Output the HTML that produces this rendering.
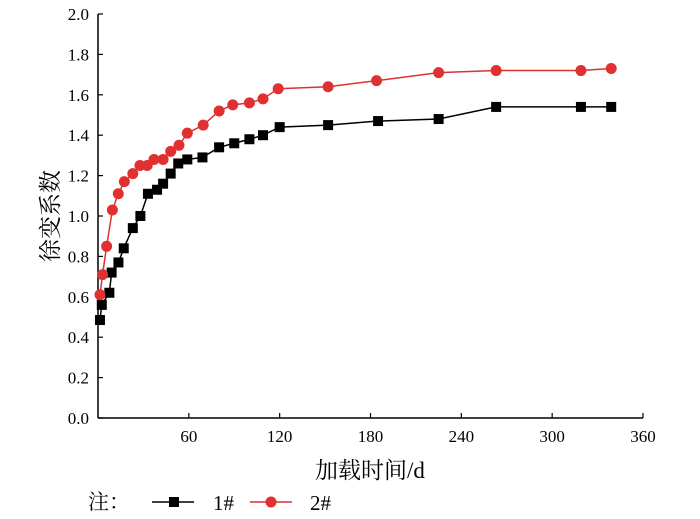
<!DOCTYPE html>
<html><head><meta charset="utf-8"><style>
html,body{margin:0;padding:0;background:#fff;}
svg{display:block;font-family:"Liberation Serif","Noto Serif CJK SC",serif;}
</style></head><body>
<svg id="chart" width="700" height="519" viewBox="0 0 700 519" xmlns="http://www.w3.org/2000/svg">
<g id="axes"></g>
<g id="series"></g>
<text x="370" y="478" font-size="23" text-anchor="middle" font-family="Liberation Serif, Noto Serif CJK SC, serif">加载时间/d</text>
<text transform="translate(58,216) rotate(-90)" font-size="23" text-anchor="middle" font-family="Liberation Serif, Noto Serif CJK SC, serif">徐变系数</text>
<g>
<text x="88" y="509" font-size="21">注：</text>
<g>
<line x1="152" y1="502" x2="194" y2="502" stroke="#000" stroke-width="1.5"/>
<rect x="169" y="497" width="10" height="10" fill="#000"/>
<text x="213" y="510" font-size="21">1#</text></g>
<g>
<line x1="250" y1="502" x2="292" y2="502" stroke="#e03030" stroke-width="1.5"/>
<circle cx="271" cy="502" r="5.5" fill="#e03030"/>
<text x="310" y="510" font-size="21">2#</text></g>
</g>
</svg>
<script>
const xTicks=[60,120,180,240,300,360];
const yTicks=[0,0.2,0.4,0.6,0.8,1.0,1.2,1.4,1.6,1.8,2.0];
const days1=[1.3,2.5,7.5,9,13.5,17,23,28,33,39,43,48,53,59,69,80,90,100,109,120,152,185,225,263,319,339];
const creep1=[0.485,0.56,0.62,0.72,0.77,0.84,0.94,1.00,1.11,1.13,1.16,1.21,1.26,1.28,1.29,1.34,1.36,1.38,1.40,1.44,1.45,1.47,1.48,1.54,1.54,1.54];
const days2=[1.3,3,5.7,9.5,13.4,17.4,23,27.7,32.5,37,43,48,53.5,59,69.5,80,89,100,109,119,152,184,225,263,319,339];
const creep2=[0.61,0.71,0.85,1.03,1.11,1.17,1.21,1.25,1.25,1.28,1.28,1.32,1.35,1.41,1.45,1.52,1.55,1.56,1.58,1.63,1.64,1.67,1.71,1.72,1.72,1.73];
const NS="http://www.w3.org/2000/svg";
const X0=98,X1=643,Y0=418,Y1=14;
function xs(v){return X0+(X1-X0)*v/360;}
function ys(v){return Y0-(Y0-Y1)*v/2;}
function mk(tag,attrs,parent){const e=document.createElementNS(NS,tag);for(const k in attrs)e.setAttribute(k,attrs[k]);parent.appendChild(e);return e;}
const ax=document.getElementById('axes');
const xl=mk('line',{x1:X0,y1:Y0,x2:X1,y2:Y0,stroke:'#000','stroke-width':1.5},ax);


const yl=mk('line',{x1:X0,y1:Y0,x2:X0,y2:Y1,stroke:'#000','stroke-width':1.5},ax);


xTicks.forEach(t=>{
 mk('line',{x1:xs(t),y1:Y0,x2:xs(t),y2:Y0-5,stroke:'#000','stroke-width':1.2},ax);
 const tx=mk('text',{x:xs(t),y:Y0+24,'font-size':17,'text-anchor':'middle'},ax);
 tx.textContent=t;
 
 
});
yTicks.forEach(t=>{
 mk('line',{x1:X0,y1:ys(t),x2:X0+5,y2:ys(t),stroke:'#000','stroke-width':1.2},ax);
 const tx=mk('text',{x:89,y:ys(t)+6,'font-size':17,'text-anchor':'end'},ax);
 tx.textContent=t.toFixed(1);
 
 
});
const sg=document.getElementById('series');
function draw(days,vals,color,shape,name){
 const g=mk('g',{},sg);
 
 
 const pts=days.map((d,i)=>xs(d)+','+ys(vals[i])).join(' ');
 const pl=mk('polyline',{points:pts,fill:'none',stroke:color,'stroke-width':1.5},g);
 
 
 days.forEach((d,i)=>{
  let m;
  if(shape==='square') m=mk('rect',{x:xs(d)-5,y:ys(vals[i])-5,width:10,height:10,fill:color},g);
  else m=mk('circle',{cx:xs(d),cy:ys(vals[i]),r:5.5,fill:color},g);
  
  
 });
}
draw(days1,creep1,'#000','square','series-1');
draw(days2,creep2,'#e03030','circle','series-2');
</script>
</body></html>
